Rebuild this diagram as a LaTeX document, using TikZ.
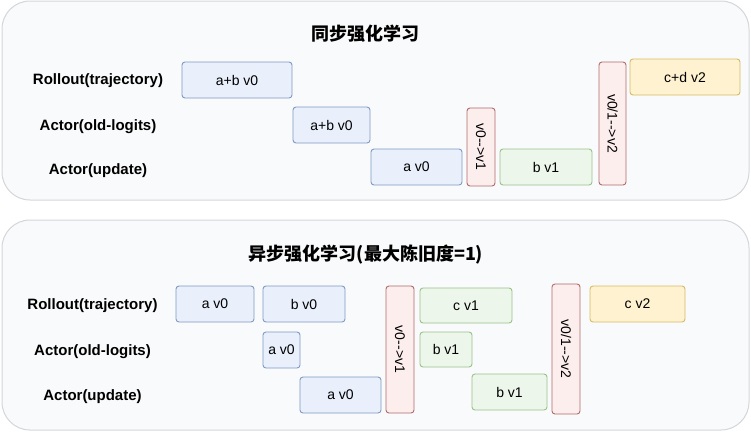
\documentclass[tikz,border=0pt]{standalone}
\usepackage{fontspec}
\setmainfont{Liberation Sans}
\newfontfamily\cjkfont{Noto Sans CJK SC}
\usepackage{xcolor}
\usepackage{tikz}
\usetikzlibrary{positioning}
\definecolor{panelbg}{HTML}{F9FAFB}
\definecolor{paneldraw}{HTML}{D3D6DA}
\definecolor{blkblue}{HTML}{E9F0FC}
\definecolor{blkbluedraw}{HTML}{7F9AC4}
\definecolor{blkgreen}{HTML}{EDF6EA}
\definecolor{blkgreendraw}{HTML}{99C28A}
\definecolor{blkred}{HTML}{FDEEEE}
\definecolor{blkreddraw}{HTML}{B36A6A}
\definecolor{blkyellow}{HTML}{FEF2D0}
\definecolor{blkyellowdraw}{HTML}{D9BA62}

\begin{document}
\begin{tikzpicture}[
      x=1pt,y=-1pt,
      panel/.style={draw=paneldraw,fill=panelbg,line width=1pt,rounded corners=28pt},
      title/.style={font=\cjkfont\bfseries\fontsize{18}{20}\selectfont},
      rowlab/.style={font=\bfseries\fontsize{15}{17}\selectfont},
      blk/.style={rounded corners=3pt,line width=0.9pt,inner sep=0pt,
                  font=\fontsize{14}{16}\selectfont},
      bluebox/.style={blk,draw=blkbluedraw,fill=blkblue},
      greenbox/.style={blk,draw=blkgreendraw,fill=blkgreen},
      yellowbox/.style={blk,draw=blkyellowdraw,fill=blkyellow},
      syncbox/.style={blk,draw=blkreddraw,fill=blkred,rotate=-90}
    ]
      \useasboundingbox (0,0) rectangle (751,432);

      % synchronous RL
      \draw[panel] (2,1) rectangle (749,200);
      \node[title] (synctitle) at (365,34) {同步强化学习};
      \node[rowlab] (rolla) at (98,81)  {Rollout(trajectory)};
      \node[rowlab] (olda)  at (98,127) {Actor(old-logits)};
      \node[rowlab] (upda)  at (98,171) {Actor(update)};

      \node[bluebox,minimum width=110pt,minimum height=36pt] (r1ab) at (237,80) {a+b v0};
      \node[bluebox,minimum width=77pt,minimum height=36pt] (o1ab) at (331.5,125) {a+b v0};
      \node[bluebox,minimum width=91pt,minimum height=36pt] (u1a) at (416.5,167) {a v0};
      \node[syncbox,minimum width=78pt,minimum height=28pt] (s1) at (481,147) {v0-{}-{}>v1};
      \node[greenbox,minimum width=92pt,minimum height=36pt] (u1b) at (546,167) {b v1};
      \node[syncbox,minimum width=123pt,minimum height=27pt] (s2) at (612.5,123.5) {v0/1-{}-{}>v2};
      \node[yellowbox,minimum width=110pt,minimum height=36pt] (r1cd) at (685,77) {c+d v2};

      % asynchronous RL
      \draw[panel] (2,220) rectangle (749,430);
      \node[title] (asynctitle) at (366,255) {异步强化学习(最大陈旧度=1)};
      \node[rowlab] (rollb) at (92.5,306) {Rollout(trajectory)};
      \node[rowlab] (oldb)  at (92.5,352) {Actor(old-logits)};
      \node[rowlab] (updb)  at (92.5,397) {Actor(update)};

      \node[bluebox,minimum width=78pt,minimum height=36pt] (r2a) at (215,304) {a v0};
      \node[bluebox,minimum width=82pt,minimum height=36pt] (r2b) at (304,304) {b v0};
      \node[bluebox,minimum width=37pt,minimum height=36pt] (o2a) at (281.5,350) {a v0};
      \node[bluebox,minimum width=81pt,minimum height=36pt] (u2a) at (340.5,395) {a v0};
      \node[syncbox,minimum width=127pt,minimum height=28pt] (s3) at (400,349.5) {v0-{}-{}>v1};
      \node[greenbox,minimum width=92pt,minimum height=35pt] (r2c) at (466,305.5) {c v1};
      \node[greenbox,minimum width=52pt,minimum height=35pt] (o2b) at (446,349.5) {b v1};
      \node[greenbox,minimum width=75pt,minimum height=36pt] (u2b) at (509.5,392) {b v1};
      \node[syncbox,minimum width=130pt,minimum height=28pt] (s4) at (566,349) {v0/1-{}-{}>v2};
      \node[yellowbox,minimum width=95pt,minimum height=36pt] (r2cv2) at (637.5,304) {c v2};
    \end{tikzpicture}
\end{document}
